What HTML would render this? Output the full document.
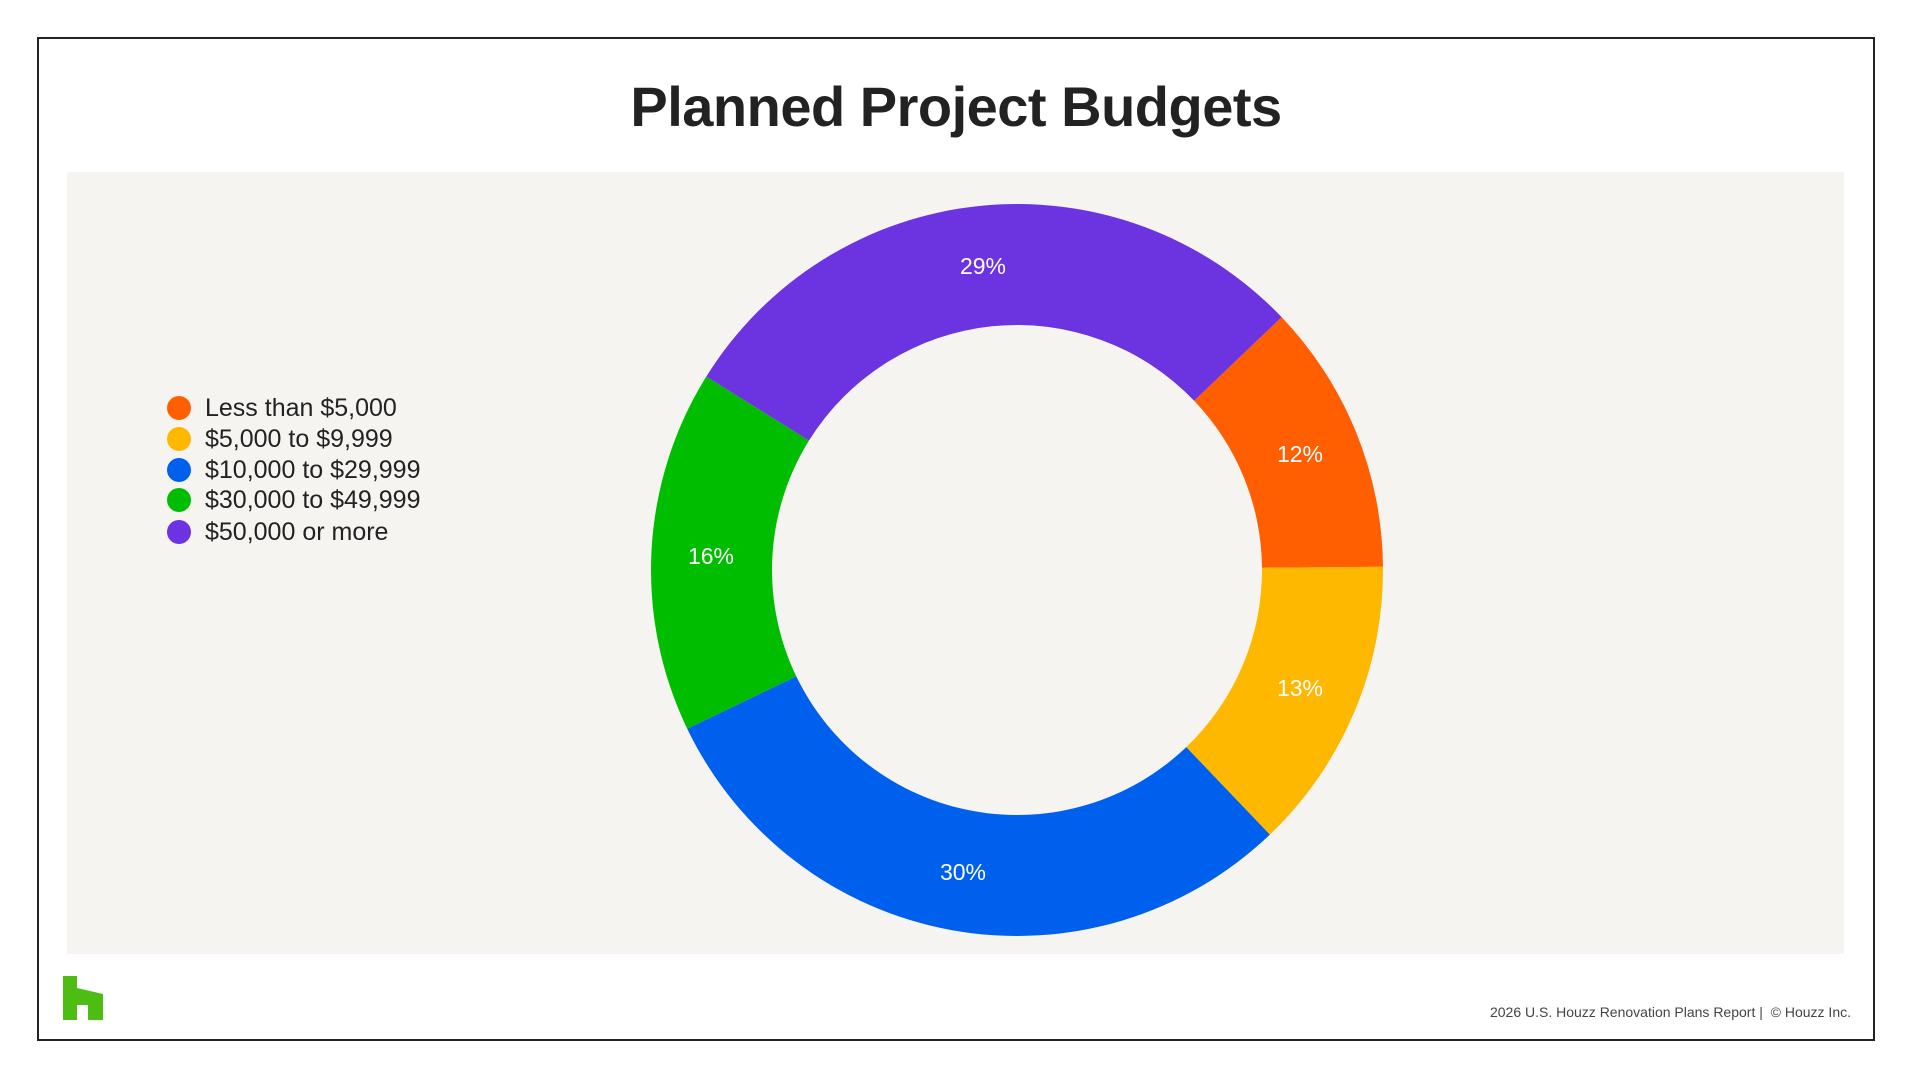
<!DOCTYPE html>
<html><head><meta charset="utf-8"><style>
html,body{margin:0;padding:0;background:#fff;}
body{width:1912px;height:1078px;position:relative;overflow:hidden;font-family:"Liberation Sans",sans-serif;}
.frame{position:absolute;left:37px;top:37px;width:1834px;height:1000px;border:2px solid #222;box-sizing:content-box;}
.title{position:absolute;left:0;width:1912px;top:74px;text-align:center;font-size:56px;font-weight:bold;color:#222;letter-spacing:-0.5px;}
.panel{position:absolute;left:67px;top:172px;width:1777px;height:782px;background:#f5f4f1;}
.leg{position:absolute;left:167px;font-size:25px;color:#222;}
.leg span{display:inline-block;width:24px;height:24px;border-radius:50%;vertical-align:-4px;margin-right:14px;}
.foot{position:absolute;right:61px;top:1004px;font-size:14px;color:#444;}
</style></head><body>
<div class="frame"></div>
<div class="title">Planned Project Budgets</div>
<div class="panel"></div>
<svg id="s" width="1912" height="1078" style="position:absolute;left:0;top:0"></svg>
<div class="leg" style="top:394px"><span style="background:#ff5f00"></span>Less than $5,000</div>
<div class="leg" style="top:425px"><span style="background:#ffb800"></span>$5,000 to $9,999</div>
<div class="leg" style="top:456px"><span style="background:#0060ee"></span>$10,000 to $29,999</div>
<div class="leg" style="top:486px"><span style="background:#00bd00"></span>$30,000 to $49,999</div>
<div class="leg" style="top:518px"><span style="background:#6c33e0"></span>$50,000 or more</div>
<div class="foot">2026 U.S. Houzz Renovation Plans Report | &nbsp;© Houzz Inc.</div>
<svg width="1912" height="1078" style="position:absolute;left:0;top:0">
<polygon points="63,976 77,976 77,988 103,994 103,1020 88,1020 88,1005 77,1005 77,1020 63,1020" fill="#4dbd14"/>
</svg>
<script>
var cx=1017,cy=570,R=366,r=245;
var d=[[12,"#ff5f00"],[13,"#ffb800"],[30,"#0060ee"],[16,"#00bd00"],[29,"#6c33e0"]];
var a=46.3,h="";
function p(rr,ang){var t=(ang-90)*Math.PI/180;return (cx+rr*Math.cos(t)).toFixed(2)+","+(cy+rr*Math.sin(t)).toFixed(2);}
d.forEach(function(s){var sw=s[0]*3.6,b=a+sw,l=sw>180?1:0;
h+='<path fill="'+s[1]+'" d="M'+p(R,a)+' A'+R+','+R+' 0 '+l+' 1 '+p(R,b)+' L'+p(r,b)+' A'+r+','+r+' 0 '+l+' 0 '+p(r,a)+'Z"/>';
a=b;});
var L=[["29%",983,266],["12%",1300,454],["13%",1300,688],["30%",963,872],["16%",711,556]];
L.forEach(function(x){h+='<text x="'+x[1]+'" y="'+(x[2]+8)+'" fill="#fff" font-size="23" text-anchor="middle" font-family="Liberation Sans, sans-serif">'+x[0]+'</text>';});
document.getElementById("s").innerHTML=h;
</script>
</body></html>
